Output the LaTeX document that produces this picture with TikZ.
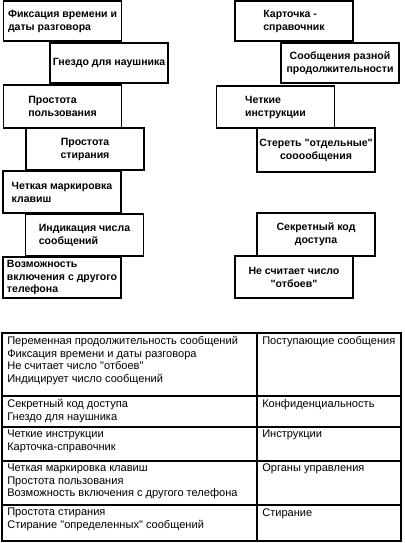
\documentclass[tikz,border=0pt]{standalone}
\usepackage{fontspec}
\setmainfont{Liberation Sans}[Ligatures=TeXOff]
\usepackage{tikz}
\tikzset{
  card/.style={draw,line width=1.2pt,inner xsep=1pt,inner ysep=0pt,align=left,
    minimum width=88.5pt,font=\bfseries\fontsize{7.9}{9.75}\selectfont},
  cell/.style={anchor=north west,inner sep=0pt,align=left,
    font=\fontsize{8.3}{9.4}\selectfont},
}

\begin{document}
\begin{tikzpicture}[x=0.75pt,y=-0.75pt]
\useasboundingbox (0,0) rectangle (404,543);
% left column of cards
\node[card,minimum height=30pt] (fix) at (62.5,21) {Фиксация времени и\\даты разговора};
\node[card,minimum height=30pt] (jack) at (109,63) {Гнездо для наушника};
\node[card,minimum height=32.25pt] (easyuse) at (62.5,106.5) {Простота\\пользования};
\node[card,minimum height=31.5pt,align=center] (easyerase) at (85,149) {Простота\\стирания};
\node[card,minimum height=31.5pt] (keys) at (62,192) {Четкая маркировка\\клавиш};
\node[card,minimum height=31.5pt] (count) at (84.5,235) {Индикация числа\\сообщений};
\node[card,minimum height=30.75pt,font=\bfseries\fontsize{7.9}{9.3}\selectfont] (remote) at (62,277.5) {Возможность\\включения с другого\\телефона};
% right column of cards
\node[card,minimum height=30pt] (refcard) at (294,21) {Карточка -\\справочник};
\node[card,minimum height=30pt,align=center] (length) at (340,63) {Сообщения разной\\продолжительности};
\node[card,minimum height=31.5pt] (instr) at (275.5,107) {Четкие\\инструкции};
\node[card,minimum height=33pt,align=center] (erase) at (316,150) {Стереть "отдельные"\\сооообщения};
\node[card,minimum height=32.25pt,align=center] (code) at (316,234.5) {Секретный код\\доступа};
\node[card,minimum height=31.5pt,align=center] (hangup) at (294,277) {Не считает число\\"отбоев"};
% table
\draw[line width=1.2pt] (2,333) rectangle (401,541);
\draw[line width=1.2pt] (2,396) -- (401,396);
\draw[line width=1.2pt] (2,427) -- (401,427);
\draw[line width=1.2pt] (2,461) -- (401,461);
\draw[line width=1.2pt] (2,505) -- (401,505);
\draw[line width=1.2pt] (257,333) -- (257,541);
\node[cell] (r1a) at (7,336) {Переменная продолжительность сообщений\\Фиксация времени и даты разговора\\Не считает число "отбоев"\\Индицирует число сообщений};
\node[cell] (r1b) at (262,336) {Поступающие сообщения};
\node[cell] (r2a) at (7,399) {Секретный код доступа\\Гнездо для наушника};
\node[cell] (r2b) at (262,399) {Конфиденциальность};
\node[cell] (r3a) at (7,430) {Четкие инструкции\\Карточка-справочник};
\node[cell] (r3b) at (262,430) {Инструкции};
\node[cell] (r4a) at (7,464) {Четкая маркировка клавиш\\Простота пользования\\Возможность включения с другого телефона};
\node[cell] (r4b) at (262,464) {Органы управления};
\node[cell] (r5a) at (7,508) {Простота стирания\\Стирание "определенных" сообщений};
\node[cell] (r5b) at (262,508) {Стирание};
\end{tikzpicture}
\end{document}
